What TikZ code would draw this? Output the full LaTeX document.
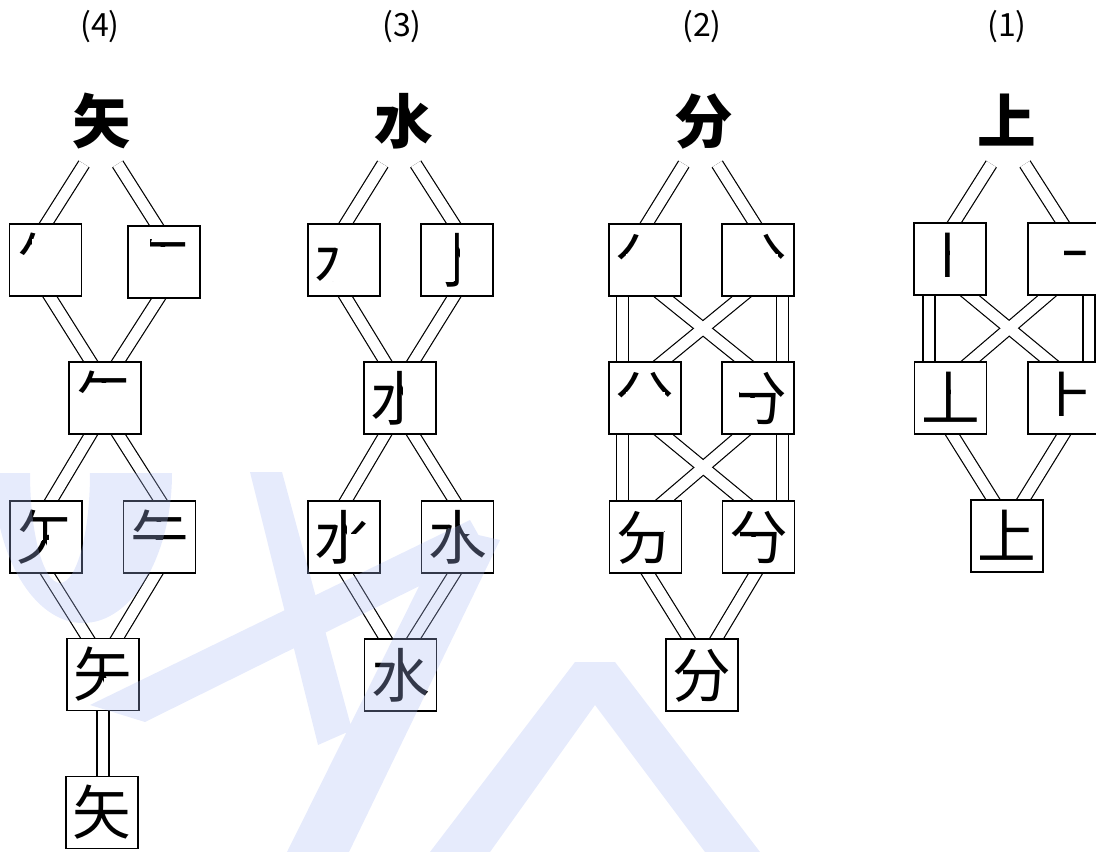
\documentclass[tikz,border=0pt]{standalone}
\usepackage{fontspec}
\newfontfamily\cjk{Noto Sans CJK SC}
\usetikzlibrary{calc}
\pgfdeclarelayer{background}
\pgfsetlayers{background,main}
\definecolor{wmc}{RGB}{172,188,245}
\def\gsz{44pt}
\newcommand\pglyph[4]{%
  \begin{scope}[shift={(#2.center)}]
    \begin{scope}[x=\gsz,y=-\gsz,shift={(-0.5,-0.5)}]
      \clip #4;
      \node[glyph] (#1) at (0.5,0.5) {#3};
    \end{scope}
  \end{scope}}
\newcommand\allbands[1]{%
  % column 4
  \draw[#1,bt] (k4l) -- ($(b4a.north)+(0.5,0)$);
  \draw[#1,bt] (k4r) -- ($(b4b.north)+(-7,0)$);
  \draw[#1,bb] ($(b4a.south)+(4,0)$) -- ($(b4c.north)+(-14,0)$);
  \draw[#1,bb] ($(b4b.south)+(-5,0)$) -- ($(b4c.north)+(13,0)$);
  \draw[#1,bb] ($(b4c.south)+(-14,0)$) -- ($(b4d.north)+(5,0)$);
  \draw[#1,bb] ($(b4c.south)+(13,0)$) -- ($(b4e.north)+(1,0)$);
  \draw[#1,bb] ($(b4d.south)+(1,0)$) -- ($(b4f.north)+(-15,0)$);
  \draw[#1,bb] ($(b4e.south)+(-3,0)$) -- ($(b4f.north)+(14,0)$);
  \draw[#1,bb] (b4f.south) -- ($(b4g.north)+(1,0)$);
  % column 3
  \draw[#1,bt] (k3l) -- ($(b3a.north)+(1.5,0)$);
  \draw[#1,bt] (k3r) -- ($(b3b.north)+(-3,0)$);
  \draw[#1,bb] ($(b3a.south)+(1,0)$) -- ($(b3c.north)+(-14.7,0)$);
  \draw[#1,bb] ($(b3b.south)+(-2.7,0)$) -- ($(b3c.north)+(13.3,0)$);
  \draw[#1,bb] ($(b3c.south)+(-14.7,0)$) -- ($(b3d.north)+(1.7,0)$);
  \draw[#1,bb] ($(b3c.south)+(13,0)$) -- ($(b3e.north)+(-2.8,0)$);
  \draw[#1,bb] ($(b3d.south)+(1.7,0)$) -- ($(b3f.north)+(-14.8,0)$);
  \draw[#1,bb] ($(b3e.south)+(-2.8,0)$) -- ($(b3f.north)+(12.8,0)$);
  % column 2
  \draw[#1,bt] (k2l) -- ($(b2a.north)+(1.7,0)$);
  \draw[#1,bt] (k2r) -- ($(b2b.north)+(-3,0)$);
  \draw[#1,bb] ($(b2a.south)+(-22.8,0)$) -- ($(b2c.north)+(-22.8,0)$);
  \draw[#1,bb] ($(b2c.south)+(-22.8,0)$) -- ($(b2e.north)+(-23.3,0)$);
  \draw[#1,bb] ($(b2b.south)+(24.2,0)$) -- ($(b2d.north)+(24.2,0)$);
  \draw[#1,bb] ($(b2d.south)+(24.2,0)$) -- ($(b2f.north)+(23.7,0)$);
  \draw[#1,bb] ($(b2a.south)+(17.8,0)$) -- ($(b2d.north)+(-13.3,0)$);
  \draw[#1,bb] ($(b2b.south)+(-15.5,0)$) -- ($(b2c.north)+(17,0)$);
  \draw[#1,bb] ($(b2c.south)+(17.8,0)$) -- ($(b2f.north)+(-14.5,0)$);
  \draw[#1,bb] ($(b2d.south)+(-15.8,0)$) -- ($(b2e.north)+(18.5,0)$);
  \draw[#1,bb] ($(b2e.south)+(2.3,0)$) -- ($(b2g.north)+(-13.2,0)$);
  \draw[#1,bb] ($(b2f.south)+(-2.7,0)$) -- ($(b2g.north)+(14.3,0)$);
  % column 1
  \draw[#1,bt] (k1l) -- ($(b1a.north)+(4,0)$);
  \draw[#1,bt] (k1r) -- ($(b1b.north)+(-1.3,0)$);
  \draw[#1,bb] ($(b1a.south)+(-21,0)$) -- ($(b1c.north)+(-21.5,0)$);
  \draw[#1,bb] ($(b1b.south)+(25,0)$) -- ($(b1d.north)+(25,0)$);
  \draw[#1,bb] ($(b1a.south)+(19,0)$) -- ($(b1d.north)+(-14,0)$);
  \draw[#1,bb] ($(b1b.south)+(-16,0)$) -- ($(b1c.north)+(19.2,0)$);
  \draw[#1,bb] ($(b1c.south)+(1.5,0)$) -- ($(b1e.north)+(-13.7,0)$);
  \draw[#1,bb] (b1d.south) -- ($(b1e.north)+(16.3,0)$);
}
\begin{document}
\begin{tikzpicture}[x=0.75pt,y=-0.75pt,
  box/.style={draw,line width=1.1pt,fill=white,minimum width=54pt,minimum height=54pt,inner sep=0pt,outer sep=0pt},
  glyph/.style={font=\cjk\fontsize{44}{44}\selectfont,inner sep=0pt,outer sep=0pt,text height=38.72pt,text depth=5.28pt},
  topglyph/.style={glyph,font=\cjk\bfseries\fontsize{44}{44}\selectfont},
  lab/.style={font=\cjk\fontsize{24}{24}\selectfont,inner sep=0pt},
  bandout/.style={line width=9.9pt,black},
  bandin/.style={line width=8.1pt,white},
  bt/.style={shorten >=-10pt},
  bb/.style={shorten <=-10pt,shorten >=-10pt}]
\useasboundingbox (0,0) rectangle (1096,852);
% labels
\node[lab] (l4) at (100,27) {(4)};
\node[lab] (l3) at (402,27) {(3)};
\node[lab] (l2) at (702,27) {(2)};
\node[lab] (l1) at (1007,27) {(1)};
% top characters
\node[topglyph] (c4) at (102,121) {矢};
\node[topglyph] (c3) at (404,121) {水};
\node[topglyph] (c2) at (704,121) {分};
\node[topglyph] (c1) at (1007,121) {上};
\coordinate (k4l) at (84,164);   \coordinate (k4r) at (117.7,164);
\coordinate (k3l) at (382.8,164); \coordinate (k3r) at (415.7,164);
\coordinate (k2l) at (683.8,164); \coordinate (k2r) at (717.2,164);
\coordinate (k1l) at (991.3,164); \coordinate (k1r) at (1025,164);
% boxes
\node[box] (b4a) at (45.5,260) {};
\node[box] (b4b) at (164,262) {};
\node[box] (b4c) at (105,398) {};
\node[box] (b4d) at (46,537) {};
\node[box] (b4e) at (159.5,537) {};
\node[box] (b4f) at (103,674.5) {};
\node[box] (b4g) at (102,812.5) {};
\node[box] (b3a) at (344,260) {};
\node[box] (b3b) at (457,260) {};
\node[box] (b3c) at (400,398) {};
\node[box] (b3d) at (344,537) {};
\node[box] (b3e) at (457.5,537) {};
\node[box] (b3f) at (400.5,675) {};
\node[box] (b2a) at (645,260) {};
\node[box] (b2b) at (758,260) {};
\node[box] (b2c) at (645,398) {};
\node[box] (b2d) at (758,398) {};
\node[box] (b2e) at (645.5,537) {};
\node[box] (b2f) at (758.5,537) {};
\node[box] (b2g) at (702,675) {};
\node[box] (b1a) at (950,259) {};
\node[box] (b1b) at (1064,259) {};
\node[box] (b1c) at (950.5,398) {};
\node[box] (b1d) at (1064,398) {};
\node[box] (b1e) at (1007,536) {};
% double connectors
\begin{pgfonlayer}{background}
\allbands{bandout}
\allbands{bandin}
\end{pgfonlayer}
% partial characters: 矢
\pglyph{g4a}{b4a}{矢}{(0,0) rectangle (0.36,0.14) (0,0.14) rectangle (0.255,0.25) (0,0.25) rectangle (0.3,0.43)}
\pglyph{g4b}{b4b}{矢}{(0.27,0.12) rectangle (0.92,0.243)}
\pglyph{g4c}{b4c}{矢}{(0,0) rectangle (1,0.243) (0,0.243) rectangle (0.3,0.43)}
\pglyph{g4d}{b4d}{矢}{(0,0) rectangle (1,0.243) (0,0.243) rectangle (0.3,0.43) (0.445,0.243) rectangle (0.54,0.545) (0.42,0.543) rectangle (0.505,0.56) (0,0.56) rectangle (0.505,1)}
\pglyph{g4e}{b4e}{矢}{(0,0) rectangle (1,0.243) (0,0.243) rectangle (0.3,0.43) (0,0.462) rectangle (1,0.545)}
\pglyph{g4f}{b4f}{矢}{(0,0) rectangle (1,0.545) (0,0.545) rectangle (0.505,1)}
\node[glyph] (g4g) at (b4g.center) {矢};
% 水
\pglyph{g3a}{b3a}{水}{(0,0) rectangle (0.43,0.87)}
\pglyph{g3b}{b3b}{水}{(0.455,0) rectangle (0.545,1) (0.28,0.86) rectangle (0.545,1)}
\pglyph{g3c}{b3c}{水}{(0,0) rectangle (0.545,1)}
\pglyph{g3d}{b3d}{水}{(0,0) rectangle (0.545,1) (0.545,0) -- (1,0) -- (1,0.443) -- (0.616,0.443) -- (0.545,0.28) -- cycle}
\pglyph{g3e}{b3e}{水}{(0,0) rectangle (0.545,1) (0.545,0.28) -- (0.616,0.443) -- (1,0.443) -- (1,1) -- (0.545,1) -- cycle}
\node[glyph] (g3f) at (b3f.center) {水};
% 分
\pglyph{g2a}{b2a}{分}{(0,0) rectangle (0.5,0.395) (0,0.395) rectangle (0.16,0.52)}
\pglyph{g2b}{b2b}{分}{(0.5,0) rectangle (1,0.395) (0.835,0.395) rectangle (1,0.52)}
\pglyph{g2c}{b2c}{分}{(0,0) rectangle (1,0.395) (0,0.395) rectangle (0.16,0.52) (0.835,0.395) rectangle (1,0.52)}
\pglyph{g2d}{b2d}{分}{(0.5,0) rectangle (1,0.395) (0.17,0.395) rectangle (1,0.49) (0.6,0.395) rectangle (1,1) (0.47,0.85) rectangle (1,1)}
\pglyph{g2e}{b2e}{分}{(0,0) rectangle (0.5,0.395) (0,0.395) rectangle (0.83,1)}
\pglyph{g2f}{b2f}{分}{(0,0) rectangle (1,0.49) (0.6,0.49) rectangle (1,1) (0.47,0.85) rectangle (1,1)}
\node[glyph] (g2g) at (b2g.center) {分};
% 上
\pglyph{g1a}{b1a}{上}{(0.3,0) rectangle (0.497,0.8)}
\pglyph{g1b}{b1b}{上}{(0.51,0.3) rectangle (1,0.5)}
\pglyph{g1c}{b1c}{上}{(0,0) rectangle (0.497,1) (0,0.8) rectangle (1,1)}
\pglyph{g1d}{b1d}{上}{(0,0) rectangle (1,0.8)}
\node[glyph] (g1e) at (b1e.center) {上};
% watermark
\fill[wmc,fill opacity=0.3]
  (172,473) arc[start angle=0,end angle=-180,x radius=66.75pt,y radius=112.5pt]
  -- (30,473) arc[start angle=180,end angle=360,x radius=22.5pt,y radius=82.5pt] -- cycle
  (90,705) -- (470,520) -- (488,552) -- (145,722) -- cycle
  (250,472) -- (282,472) -- (352,730) -- (318,745) -- cycle
  (448,528) -- (500,540) -- (349,852) -- (287,852) -- cycle
  (430,852) -- (575,662) -- (615,662) -- (760,852) -- (705,852) -- (595,705) -- (490,852) -- cycle;
\end{tikzpicture}
\end{document}
